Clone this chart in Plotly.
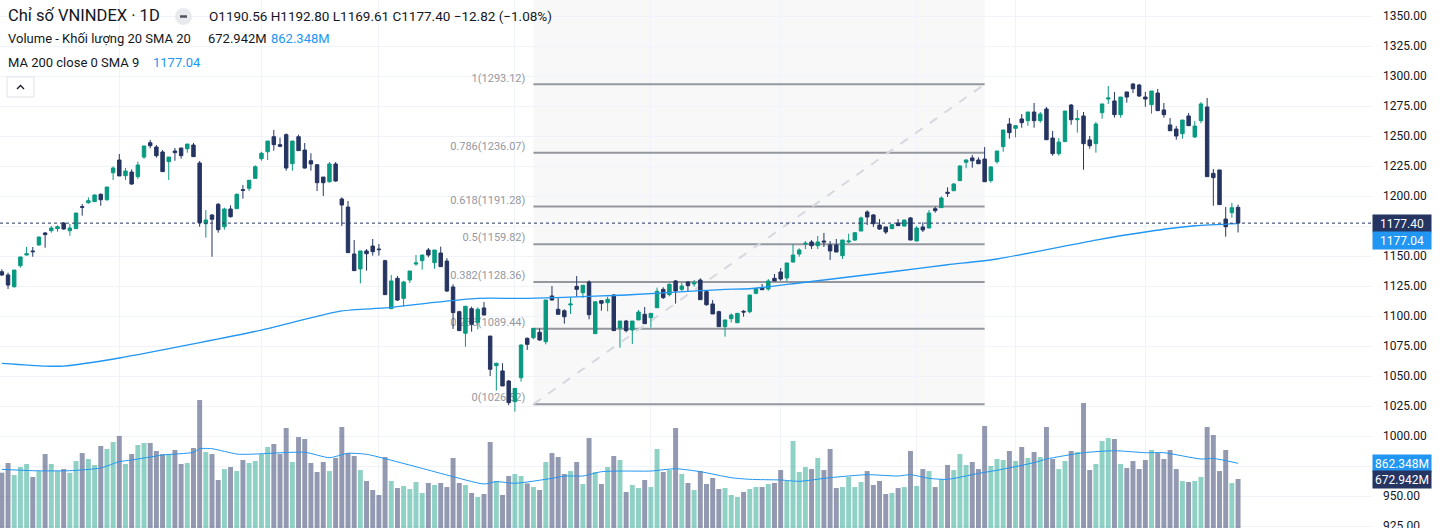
import plotly.graph_objects as go

W, H = 1440, 528
MR = 68
PW = W - MR

# ---------------- data ----------------
opens = [1136.9,1134.2,1124.4,1141.9,1150.8,1154.2,1159.2,1169.2,1171.1,1172.8,
         1177.5,1171.1,1172.8,1191.1,1194.4,1195.3,1201.4,1196.9,1219.4,1230.0,
         1216.9,1220.0,1216.1,1232.5,1244.4,1240.8,1236.7,1228.6,1237.5,1240.0,
         1239.4,1242.5,1227.5,1176.9,1184.2,1193.1,1174.4,1189.2,1189.4,1205.3,
         1206.4,1214.7,1231.1,1236.9,1249.4,1242.8,1251.1,1226.9,1249.4,1238.3,
         1229.4,1226.1,1215.8,1211.9,1226.7,1197.5,1190.8,1151.7,1139.2,1154.2,
         1158.3,1155.8,1146.1,1106.1,1131.4,1114.7,1130.0,1143.3,1146.1,1155.0,
         1144.4,1152.5,1145.8,1124.2,1103.6,1085.6,1106.1,1094.7,1106.7,1083.3,
         1058.6,1054.2,1045.8,1028.6,1048.6,1081.4,1081.9,1086.4,1078.6,1116.7,
         1105.6,1104.4,1109.2,1124.7,1119.4,1128.3,1085.3,1112.8,1111.1,1117.5,
         1090.0,1095.8,1088.3,1096.7,1101.4,1098.6,1106.9,1122.2,1117.8,1129.2,
         1122.2,1128.3,1126.7,1130.0,1120.3,1110.0,1103.6,1091.1,1097.8,1094.4,
         1103.9,1103.6,1118.9,1123.3,1122.5,1131.4,1136.7,1131.7,1145.0,1151.7,
         1160.0,1161.7,1158.6,1162.5,1159.2,1159.2,1150.3,1161.7,1163.3,1170.8,
         1186.7,1184.2,1175.8,1174.2,1172.8,1177.5,1175.0,1181.7,1162.5,1174.2,
         1173.3,1189.4,1190.3,1203.1,1204.4,1212.8,1228.1,1231.7,1230.0,1230.8,
         1212.8,1228.6,1241.1,1260.0,1256.4,1264.2,1262.8,1270.0,1262.8,1272.5,
         1248.3,1235.3,1245.3,1275.8,1263.6,1266.7,1246.7,1243.6,1269.4,1280.8,
         1279.2,1267.8,1286.7,1293.3,1292.5,1282.5,1276.1,1285.8,1271.7,1259.2,
         1255.8,1251.9,1266.7,1249.2,1262.8,1274.2,1218.9,1221.7,1180.8,1186.1,
         1190.56]
highs = [1138.9,1136.1,1138.3,1149.2,1157.5,1157.5,1166.1,1170.0,1175.0,1175.6,
         1178.3,1176.7,1185.8,1193.3,1198.9,1201.4,1202.2,1207.5,1224.7,1235.0,
         1223.3,1222.2,1228.6,1241.7,1246.7,1242.5,1238.3,1232.5,1240.0,1240.0,
         1243.3,1244.2,1229.2,1188.3,1184.7,1194.2,1190.3,1192.2,1202.2,1209.2,
         1213.1,1225.6,1236.9,1245.8,1255.0,1248.6,1252.2,1245.8,1251.1,1244.2,
         1235.6,1226.1,1215.8,1228.3,1228.3,1198.9,1195.8,1163.3,1154.2,1155.8,
         1164.2,1160.0,1146.9,1134.2,1133.3,1129.2,1137.5,1150.8,1150.8,1156.7,
         1155.0,1157.8,1148.3,1126.4,1104.4,1108.1,1107.8,1107.2,1111.7,1083.3,
         1061.1,1060.6,1046.7,1039.7,1076.4,1082.2,1089.7,1089.7,1113.3,1125.0,
         1115.6,1105.6,1115.6,1133.3,1125.6,1129.7,1111.9,1112.8,1116.1,1118.3,
         1095.8,1096.7,1095.8,1105.0,1107.5,1102.2,1123.6,1123.9,1127.2,1130.0,
         1127.8,1129.2,1130.0,1131.4,1120.8,1113.3,1104.4,1096.7,1102.2,1102.2,
         1105.0,1117.5,1122.8,1126.7,1130.8,1135.0,1140.0,1144.2,1159.7,1156.4,
         1162.5,1163.3,1166.7,1169.2,1162.5,1164.2,1163.3,1168.6,1170.0,1182.8,
         1188.1,1185.0,1180.8,1174.2,1176.9,1180.8,1180.0,1182.5,1175.0,1178.1,
         1188.3,1191.1,1199.7,1207.2,1210.6,1225.6,1230.6,1234.2,1232.2,1240.8,
         1225.0,1237.5,1255.0,1265.0,1259.2,1268.3,1270.0,1277.5,1270.0,1274.2,
         1254.2,1248.3,1270.8,1276.7,1271.7,1270.0,1250.0,1261.7,1276.7,1291.7,
         1286.7,1282.5,1286.7,1294.2,1293.3,1286.7,1287.5,1289.2,1277.5,1265.0,
         1258.3,1263.3,1269.2,1262.5,1278.3,1281.7,1222.5,1221.7,1190.8,1194.2,
         1192.80]
lows = [1133.3,1122.5,1123.6,1140.3,1150.6,1149.4,1158.6,1156.9,1169.4,1170.3,
        1171.9,1166.9,1172.8,1183.6,1193.6,1195.0,1191.9,1196.1,1213.3,1216.7,
        1213.3,1209.2,1214.2,1230.8,1239.7,1231.9,1220.3,1213.3,1229.4,1231.1,
        1236.1,1232.8,1174.4,1165.3,1149.4,1169.4,1171.9,1181.9,1189.4,1197.8,
        1204.2,1214.7,1229.4,1230.0,1237.8,1240.6,1221.1,1221.1,1237.8,1222.8,
        1221.1,1204.2,1200.0,1211.1,1211.9,1175.0,1152.8,1137.8,1127.2,1137.8,
        1150.3,1150.3,1117.8,1106.1,1112.5,1107.8,1127.5,1141.9,1138.6,1148.9,
        1139.4,1141.1,1120.0,1089.2,1087.8,1074.4,1086.9,1088.9,1100.8,1050.0,
        1037.8,1041.7,1025.6,1020.3,1045.3,1071.7,1080.6,1079.4,1076.4,1113.1,
        1101.4,1093.6,1101.7,1116.1,1115.0,1097.2,1085.3,1104.4,1103.9,1087.8,
        1073.6,1086.4,1076.7,1096.7,1093.6,1090.3,1106.9,1114.2,1116.4,1110.3,
        1120.8,1120.8,1124.4,1113.6,1108.6,1101.7,1091.1,1082.8,1094.7,1094.4,
        1099.4,1102.2,1118.1,1121.7,1121.1,1129.2,1129.4,1128.9,1144.4,1149.4,
        1155.8,1155.8,1155.8,1157.5,1146.7,1153.3,1147.5,1160.8,1162.5,1170.8,
        1175.8,1174.2,1171.7,1168.3,1172.8,1175.3,1174.4,1163.3,1162.5,1170.0,
        1173.3,1186.1,1190.3,1199.2,1204.4,1212.8,1223.1,1223.6,1226.9,1211.9,
        1211.1,1226.9,1236.9,1247.8,1248.9,1256.9,1258.6,1256.9,1261.1,1246.9,
        1233.6,1233.6,1245.3,1259.4,1252.8,1221.9,1239.4,1236.1,1264.4,1276.7,
        1265.3,1265.3,1277.8,1285.8,1282.5,1274.4,1268.6,1271.1,1265.3,1254.4,
        1246.9,1247.8,1258.6,1248.3,1260.6,1216.1,1191.9,1192.8,1166.1,1181.9,
        1169.61]
closes = [1134.2,1125.8,1138.3,1149.2,1151.9,1153.6,1165.8,1167.8,1173.3,1174.4,
          1172.5,1173.3,1185.8,1190.6,1196.1,1200.8,1196.9,1207.5,1223.3,1216.7,
          1220.8,1210.0,1225.8,1241.7,1241.9,1233.6,1220.3,1232.5,1236.1,1233.6,
          1243.3,1232.8,1177.8,1180.0,1180.6,1171.9,1189.2,1182.8,1201.4,1204.7,
          1213.1,1224.4,1235.6,1245.8,1242.8,1241.4,1223.3,1245.8,1237.8,1223.3,
          1226.7,1211.1,1211.1,1226.7,1212.5,1192.5,1152.8,1137.8,1154.2,1151.9,
          1153.6,1155.3,1117.8,1129.2,1113.3,1128.3,1137.5,1144.2,1150.8,1150.8,
          1155.0,1141.1,1120.8,1102.8,1087.8,1108.1,1093.1,1105.6,1100.8,1055.6,
          1060.6,1041.7,1027.8,1039.7,1075.8,1076.4,1089.7,1080.0,1113.3,1113.3,
          1101.4,1099.4,1110.0,1122.2,1125.6,1101.1,1111.9,1110.6,1113.9,1087.8,
          1095.8,1087.8,1095.8,1103.3,1093.6,1102.2,1120.6,1115.3,1126.4,1120.8,
          1125.0,1125.3,1127.5,1113.6,1109.4,1101.7,1091.1,1096.7,1100.8,1102.2,
          1103.3,1117.5,1122.8,1121.9,1129.2,1129.2,1130.8,1144.2,1150.8,1155.0,
          1160.6,1158.6,1161.7,1161.7,1154.2,1153.3,1163.3,1162.5,1169.4,1181.7,
          1182.5,1176.9,1172.5,1170.0,1176.1,1175.3,1180.0,1163.3,1173.3,1171.7,
          1185.8,1187.8,1198.3,1202.2,1210.0,1225.0,1230.0,1229.4,1226.9,1211.9,
          1224.2,1237.5,1255.0,1252.8,1258.6,1261.1,1270.0,1262.8,1268.3,1246.9,
          1235.3,1245.0,1270.8,1263.6,1264.4,1243.6,1241.9,1260.0,1276.7,1281.7,
          1267.8,1282.5,1282.5,1289.4,1283.3,1280.8,1287.5,1271.1,1267.8,1254.4,
          1250.0,1263.3,1258.6,1258.3,1276.7,1216.1,1215.3,1192.8,1174.4,1190.22,
          1177.40]
# volume, millions
volumes = [749,866,721,818,854,697,769,974,854,769,793,748,890,986,914,842,1071,1035,1119,1192,
           854,974,1083,1107,1107,1011,974,974,1023,854,866,1047,1626,999,974,661,793,818,769,902,
           866,890,974,1059,1095,974,1288,878,1179,1155,866,757,878,769,926,1300,986,950,781,649,
           540,480,938,649,564,589,552,637,504,625,601,625,576,926,625,601,504,456,492,1119,
           649,480,709,733,709,620,576,540,878,986,938,733,769,878,613,1167,757,613,818,950,
           902,516,601,564,661,576,1035,757,781,1288,733,625,540,769,613,685,552,564,480,456,
           516,552,576,576,613,625,781,649,1131,757,818,793,926,781,1035,564,576,697,576,637,
           769,601,649,492,504,564,576,1011,589,793,769,576,673,842,781,974,842,878,793,1312,
           830,914,902,1011,890,1059,926,999,938,1300,914,793,890,1011,999,1590,781,854,1131,1167,
           1155,854,806,890,793,902,1023,986,914,1023,793,649,637,649,697,1300,1204,769,1023,625,
           672.942]
# MA 200 of close (read at selected bars)
ma200_idx = [0, 7, 10, 19, 32, 42, 55, 62, 69, 77, 85, 97, 101, 113, 117, 121, 129, 137, 145, 153, 161, 177, 185, 193, 200]
ma200_val = [1060.6, 1058.3, 1058.3, 1065.0, 1077.8, 1088.3, 1104.2, 1106.7, 1110.8, 1114.7, 1114.7, 1116.7,
             1117.5, 1121.1, 1122.2, 1122.7, 1127.5, 1132.5, 1137.5, 1142.7, 1147.5, 1163.3, 1170.0, 1175.2, 1177.04]
# Volume SMA 20 (read at selected bars), millions
vma_idx = [0, 5, 11, 16, 19, 21, 26, 31, 32, 34, 38, 40, 49, 53, 56, 59, 62, 67, 72, 78, 80, 83, 89, 91, 94,
           97, 100, 105, 109, 113, 118, 121, 126, 129, 134, 140, 145, 147, 150, 153, 158, 161, 167, 169, 175,
           180, 185, 188, 194, 196, 200]
vma_val = [790, 773, 773, 806, 882, 902, 962, 995, 1038, 1038, 974, 971, 995, 930, 983, 971, 918, 821, 721, 613,
           641, 621, 681, 709, 709, 761, 769, 769, 797, 761, 689, 669, 661, 645, 689, 725, 709, 725, 681, 669,
           741, 778, 870, 914, 990, 1014, 990, 990, 914, 921, 862.348]
month_idx = [19, 42, 61, 83, 105, 126, 148, 164, 185]
price_ticks = [925, 950, 975, 1000, 1025, 1050, 1075, 1100, 1125, 1150, 1175, 1200, 1225, 1250, 1275, 1300, 1325, 1350]
hidden_ticks = [975, 1175]  # covered by the value tags in the reference
fib_ratios = ["0", "0.236", "0.382", "0.5", "0.618", "0.786", "1"]
fib_prices = [1026.52, 1089.44, 1128.36, 1159.82, 1191.28, 1236.07, 1293.12]
fib_start, fib_end = 86, 159
last_close = 1177.40
ma_last = 1177.04
vol_last = 672.942
vma_last = 862.348

# ---------------- styling ----------------
UP = "#089981"
DN = "#253461"
UP_V = "rgba(8,153,129,0.45)"
DN_V = "rgba(37,52,97,0.5)"
BLUE = "#2196f3"
GRID = "#f0f3fa"
TXT = "#131722"
FONT = "Roboto, Noto Sans, sans-serif"

PRICE_RANGE = [923.33, 1363.33]
VOL_RANGE = [82, 6450]
X_RANGE = [-0.301, 221.67]
FIB_LABEL_GAP = 1.3  # bars between label end and fib start

n = len(closes)
xs = list(range(n))

fig = go.Figure()

# fib labels (under candles) on main axis
fig.add_trace(go.Scatter(
    x=[fib_start - FIB_LABEL_GAP] * len(fib_prices), y=fib_prices, mode="text",
    text=[f"{r}({p:.2f})" for r, p in zip(fib_ratios, fib_prices)],
    textposition="top left", textfont=dict(size=11, color="#9598a1", family=FONT),
    hoverinfo="skip", showlegend=False, xaxis="x", yaxis="y"))

# volume
fig.add_trace(go.Bar(
    x=xs, y=volumes, width=0.8,
    marker=dict(color=[UP_V if c >= o else DN_V for o, c in zip(opens, closes)], line=dict(width=0)),
    hoverinfo="skip", showlegend=False, xaxis="x", yaxis="y2"))
fig.add_trace(go.Scatter(
    x=vma_idx, y=vma_val, mode="lines", line=dict(color=BLUE, width=1, shape="spline", smoothing=0.6),
    hoverinfo="skip", showlegend=False, xaxis="x", yaxis="y2"))

# candles
fig.add_trace(go.Candlestick(
    x=xs, open=opens, high=highs, low=lows, close=closes,
    increasing=dict(line=dict(color=UP, width=1), fillcolor=UP),
    decreasing=dict(line=dict(color=DN, width=1), fillcolor=DN),
    whiskerwidth=0, hoverinfo="skip", showlegend=False, xaxis="x", yaxis="y3"))
fig.add_trace(go.Scatter(
    x=ma200_idx, y=ma200_val, mode="lines", line=dict(color=BLUE, width=1.3, shape="spline", smoothing=0.6),
    hoverinfo="skip", showlegend=False, xaxis="x", yaxis="y3"))

shapes = []
# fib background
shapes.append(dict(type="rect", xref="x", yref="y", x0=fib_start, x1=fib_end,
                   y0=fib_prices[0], y1=PRICE_RANGE[1], fillcolor="#f8f8f9", line=dict(width=0), layer="below"))
for p in fib_prices:
    shapes.append(dict(type="line", xref="x", yref="y", x0=fib_start, x1=fib_end, y0=p, y1=p,
                       line=dict(color="#95979f", width=2), layer="between"))
shapes.append(dict(type="line", xref="x", yref="y", x0=fib_start, x1=fib_end, y0=fib_prices[0], y1=fib_prices[-1],
                   line=dict(color="#d6d8de", width=2, dash="dash"), layer="between"))
# last price dotted line
shapes.append(dict(type="line", xref="paper", yref="y", x0=0, x1=1, y0=last_close, y1=last_close,
                   line=dict(color=DN, width=1, dash="dot"), layer="above"))


def px(x):
    return x / PW


def py(y):
    return 1 - y / H


# legend icon circle and collapse button
shapes.append(dict(type="circle", xref="paper", yref="paper", x0=px(175), x1=px(192), y0=py(25), y1=py(8),
                   fillcolor="#e9eaee", line=dict(width=0), layer="above"))
shapes.append(dict(type="line", xref="paper", yref="paper", x0=px(180), x1=px(187), y0=py(16.5), y1=py(16.5),
                   line=dict(color="#50535e", width=2.5), layer="above"))
shapes.append(dict(type="rect", xref="paper", yref="paper", x0=px(7), x1=px(34), y0=py(97), y1=py(77),
                   fillcolor="white", line=dict(color="#e0e3eb", width=1), layer="above"))
shapes.append(dict(type="path", xref="paper", yref="paper",
                   path=f"M {px(17)} {py(89)} L {px(20.5)} {py(85.5)} L {px(24)} {py(89)}",
                   line=dict(color=TXT, width=1.3), layer="above"))

ann = []


def label(text, x, y, size=13, color=TXT):
    ann.append(dict(text=text, xref="paper", yref="paper", x=px(x), y=py(y), xanchor="left", yanchor="middle",
                    showarrow=False, font=dict(size=size, color=color, family=FONT)))


label("Chỉ số VNINDEX · 1D", 6, 16, size=16.5)
label("O1190.56 H1192.80 L1169.61 C1177.40 −12.82 (−1.08%)", 207, 16, size=13.5)
label("Volume - Khối lượng 20 SMA 20", 6, 39)
label(f"{vol_last:.3f}M", 206, 39)
label(f"{vma_last:.3f}M", 269, 39, color=BLUE)
label("MA 200 close 0 SMA 9", 6, 62)
label(f"{ma_last:.2f}", 151, 62, color=BLUE)


def tag(text, yref, yval, bg, yshift=0):
    ann.append(dict(text=text, xref="paper", yref=yref, x=1, y=yval, xanchor="left", yanchor="middle",
                    showarrow=False, width=54, height=13, align="center", bgcolor=bg, borderpad=2,
                    yshift=yshift, font=dict(size=12, color="white", family=FONT)))


tag(f"{last_close:.2f}", "y", last_close, DN)
tag(f"{ma_last:.2f}", "y", ma_last, BLUE, yshift=-17)
tag(f"{vma_last:.3f}M", "y2", vma_last, BLUE)
tag(f"{vol_last:.3f}M", "y2", vol_last, DN)

fig.update_layout(
    width=W, height=H, margin=dict(l=0, r=MR, t=0, b=0, autoexpand=False),
    paper_bgcolor="white", plot_bgcolor="white",
    font=dict(family=FONT, color=TXT),
    showlegend=False, hovermode=False, boxgap=0.2,
    shapes=shapes, annotations=ann,
    xaxis=dict(range=X_RANGE, tickvals=month_idx, showticklabels=False, showgrid=True, gridcolor=GRID,
               zeroline=False, showline=False, ticks="", rangeslider=dict(visible=False), fixedrange=True,
               automargin=False),
    yaxis=dict(range=PRICE_RANGE, side="right", tickvals=price_ticks,
               ticktext=["" if v in hidden_ticks else f"{v:.2f}" for v in price_ticks],
               showgrid=True, gridcolor=GRID, zeroline=False, showline=False, ticks="",
               tickfont=dict(size=12, color=TXT, family=FONT), ticklabelstandoff=10,
               ticklabeloverflow="allow", automargin=False, fixedrange=True),
    yaxis2=dict(range=VOL_RANGE, overlaying="y", visible=False, fixedrange=True),
    yaxis3=dict(range=PRICE_RANGE, overlaying="y", visible=False, fixedrange=True),
)

fig.write_html("out.html", config={"displayModeBar": False})
